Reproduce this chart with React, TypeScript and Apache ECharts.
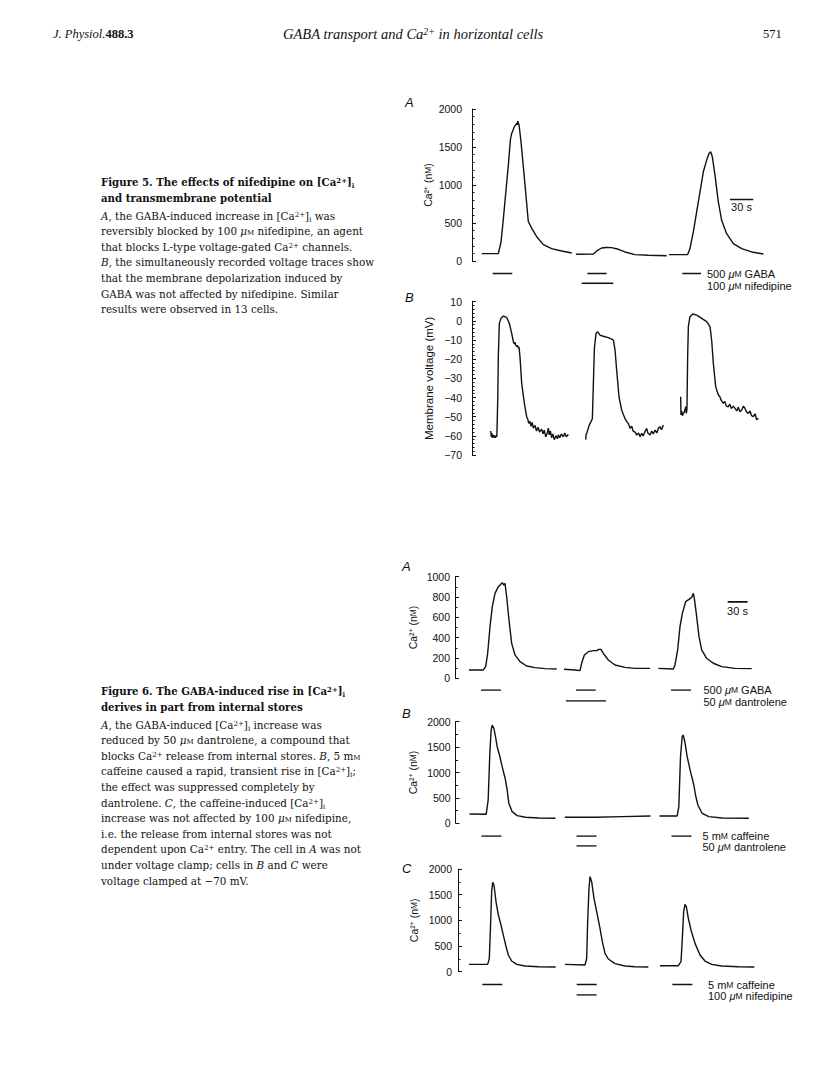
import React, { useEffect, useRef } from "react";
import * as echarts from "echarts";

type Pt = [number, number];

// ---------- Figure 5A : [Ca2+] (nM) vs time (s) ----------
const f5aControl: Pt[] = [[12.5,97],[33.9,97],[37.4,250],[40.4,558],[46.8,1262],[49.5,1600],[51.1,1679],[54.6,1767],[57.6,1811],[58.2,1790],[58.8,1842],[60.6,1789],[63.1,1569],[68.3,998],[72.5,520],[77,430],[83.3,320],[91.9,215],[102.6,163],[115.5,132],[128.4,105]];
const f5aNifedipine: Pt[] = [[134,88],[156.3,92],[160.6,132],[167,171],[173,177],[179.9,176],[188.5,154],[197,119],[209.9,84],[227.1,75],[250.7,70]];
const f5aWash: Pt[] = [[253.7,84],[277.7,84],[280.7,163],[285,382],[289.3,646],[293.6,910],[297.9,1174],[302.2,1328],[305.2,1415],[307.3,1437],[309.5,1371],[312.9,1130],[317.2,778],[321.5,536],[327.9,360],[336.5,229],[347.3,163],[360.1,119],[375.2,92]];
const f5aGaba: Pt[] = [[26.7,51.9],[148.5,173.4],[270.8,294.9]];
const f5aNif: Pt[] = [[141.2,181.9]];
const f5aScale: Pt[] = [[332.2,809],[362.2,809]];

// ---------- Figure 5B : membrane voltage (mV) ----------
const f5bControl: Pt[] = [[24.1,-57.5],[24.8,-60.5],[25.5,-58.5],[26.2,-61],[27,-59.5],[28,-60.8],[29,-59.8],[30,-61],[31,-60],[32,-60.5],[33.2,-40],[33.9,-18.7],[35.2,-1.3],[37.4,1.3],[40.4,2.5],[44.7,1.8],[48.1,-1.3],[51.1,-6.5],[53.3,-10.9],[54.5,-12],[55.5,-11.2],[56.3,-12.6],[57.5,-13.5],[58.5,-12.8],[59.7,-14.3],[60.5,-13.6],[61.8,-18.7],[64,-32.6],[67.4,-43],[70.4,-50],[72,-51.5],[73,-53.5],[74.7,-52.5],[76,-55],[77.5,-53],[79,-56],[81.2,-54.5],[83,-57.5],[85,-55.5],[87,-58],[89.7,-56.5],[91.5,-59],[93,-57],[95,-60.5],[97,-58.5],[98.3,-56],[99.5,-59.5],[101,-57.5],[102.6,-61],[104,-59],[106,-62],[108,-60],[110,-61.5],[111.2,-59.5],[113,-61],[115,-59],[117.6,-60.5],[119.5,-58.5],[121.5,-60.5],[124.1,-59.3]];
const f5bNifedipine: Pt[] = [[146.4,-62],[147,-59],[147.7,-58.7],[149,-57],[150.5,-55],[152,-53.5],[153.5,-52.5],[155,-50.9],[156.3,-32.6],[157.6,-14.3],[159.7,-6.5],[161.9,-5.7],[164.9,-7.4],[168,-7.9],[171.3,-8.3],[174.5,-8.6],[177.7,-9.1],[180,-9.5],[182,-10],[184.2,-15.2],[186.3,-25.7],[189.3,-39.6],[192.7,-46.5],[195,-49],[197,-50.9],[199,-52.5],[201.3,-53.5],[203.5,-56],[205.6,-55],[207.5,-57.5],[210,-58],[212.1,-59.6],[214.5,-58.5],[216.5,-60.5],[218.5,-58.7],[220.5,-60],[222.5,-58],[224.9,-56.1],[226.5,-58.5],[229.2,-59.6],[231.5,-57.5],[233.5,-59],[235.7,-57],[238,-58.5],[240,-56],[242.1,-55.2],[244,-56.8],[246.4,-54.3]];
const f5bWash: Pt[] = [[268.7,-39.6],[269.1,-49.1],[270,-47],[271,-49.5],[272.2,-48.3],[273.5,-47.5],[275.2,-44.8],[276,-48.3],[276.8,-46],[277.7,-18.7],[278.6,-3],[280.7,2.2],[284.2,3.6],[289.3,3],[295.8,1.3],[302.2,-0.4],[306.5,-3],[308.6,-10],[310.8,-22.2],[313.8,-34.3],[317.2,-38.7],[319,-39.5],[321,-41.5],[323.7,-43],[325.5,-42],[327.5,-44.5],[330.1,-44.8],[332,-43.5],[334,-45.8],[336.5,-44.5],[338.7,-45.7],[341,-47],[343,-45],[345,-47.5],[347.3,-46.5],[349.5,-44.5],[351.6,-45.7],[353.5,-47.5],[355.9,-48.3],[358,-47],[360,-49.5],[362.3,-50],[364.5,-48.5],[366.5,-51.5],[368.7,-50.9]];

// ---------- Figure 6A ----------
const f6aControl: Pt[] = [[21,82],[42.5,82],[46,115],[49,246],[52.5,508],[56,705],[60,836],[65,902],[69,928],[71,941],[73,918],[75,934],[77.5,803],[81,574],[85,344],[90,230],[97.5,164],[107.5,121],[120,105],[135,95],[152.5,92]];
const f6aDantrolene: Pt[] = [[163.5,89],[180,82],[187.5,75],[190,148],[194,230],[200,262],[207.5,272],[212.5,272],[216,285],[219,285],[222.5,246],[230,180],[240,131],[255,108],[270,98],[292.5,98]];
const f6aWash: Pt[] = [[305,98],[327.5,92],[330,131],[334,279],[337.5,508],[341,639],[346,754],[351,777],[355,797],[357.5,836],[359,787],[362.5,607],[366,410],[370,279],[377.5,197],[387.5,148],[400,115],[420,98],[445,95]];
const f6aGaba: Pt[] = [[39,69],[181.5,211],[324,354]];
const f6aDant: Pt[] = [[166.5,226.5]];
const f6aScale: Pt[] = [[409,753],[439,753]];

// ---------- Figure 6B ----------
const f6bControl: Pt[] = [[21,184],[46,177],[49,459],[51.5,1377],[53.5,1836],[55,1934],[57.5,1869],[60,1705],[62.5,1508],[66,1344],[70,1115],[75,852],[77.5,656],[80,393],[85,229],[92.5,151],[105,118],[125,105],[150,98]];
const f6bDantrolene: Pt[] = [[164,118],[210,118],[250,131],[292.5,144]];
const f6bWash: Pt[] = [[306,144],[332.5,144],[335,328],[337.5,1311],[340,1705],[341.5,1738],[344,1606],[347.5,1311],[352.5,1016],[357.5,754],[360,557],[363.5,361],[370,197],[380,131],[400,105],[440,98]];
const f6bCaff: Pt[] = [[39,69],[181.5,211.5],[324,354]];
const f6bDant: Pt[] = [[181.5,211.5]];

// ---------- Figure 6C ----------
const f6cControl: Pt[] = [[16.5,143],[44.5,143],[47,260],[49,974],[50.5,1558],[52,1740],[54,1688],[57,1364],[60.5,1104],[64.5,909],[68,714],[71.5,520],[75.5,325],[80.5,208],[88,143],[100.5,110],[120.5,97],[146.5,91]];
const f6cNifedipine: Pt[] = [[160.5,143],[190.5,130],[193,260],[194.5,974],[196.5,1624],[198,1851],[200.5,1753],[204,1429],[208,1169],[213,844],[216.5,584],[220.5,357],[225.5,247],[235.5,156],[250.5,110],[265.5,97],[285.5,91]];
const f6cWash: Pt[] = [[303,117],[330.5,117],[334.5,195],[336.5,649],[338.5,1169],[340.5,1312],[342.5,1266],[345.5,1039],[349.5,812],[355.5,552],[363,325],[370.5,208],[380.5,143],[395.5,110],[420.5,97],[444.5,91]];
const f6cCaff: Pt[] = [[36.5,66.5],[178,208],[321.5,351.5]];
const f6cNif: Pt[] = [[178,208]];

const SANS = '"Liberation Sans", Arial, Helvetica, sans-serif';
const SERIF = '"Liberation Serif", "Times New Roman", serif';
const CAPSERIF = '"DejaVu Serif", "Liberation Serif", serif';
const INK = "#111";

function buildOption() {
  const grids: any[] = [];
  const xAxes: any[] = [];
  const yAxes: any[] = [];
  const series: any[] = [];

  const rich = {
    sc: { fontSize: 8.5, fontFamily: SANS, color: INK },
    mu: { fontSize: 11, fontStyle: "italic", fontFamily: SANS, color: INK },
  };

  function trace(p: {
    left: number; top: number; width: number; height: number; xMax: number;
    yMin: number; yMax: number; interval: number; minor: number; offset: number;
    name: string; nameGap: number; nameSize: number; segments: Pt[][]; scale?: Pt[];
  }) {
    const gi = grids.length;
    grids.push({ left: p.left, top: p.top, width: p.width, height: p.height });
    xAxes.push({ gridIndex: gi, type: "value", min: 0, max: p.xMax, show: false });
    yAxes.push({
      gridIndex: gi, type: "value", min: p.yMin, max: p.yMax, interval: p.interval, offset: p.offset,
      name: p.name, nameLocation: "middle", nameGap: p.nameGap,
      nameTextStyle: { color: INK, fontSize: p.nameSize, fontFamily: SANS, rich: { sc: { fontSize: p.nameSize * 0.8, fontFamily: SANS, color: INK } } },
      axisLine: { show: true, lineStyle: { color: INK, width: 1 } },
      axisTick: { show: true, inside: true, length: 4, lineStyle: { color: INK, width: 1 } },
      minorTick: { show: true, splitNumber: p.minor, length: 2.5, lineStyle: { color: INK, width: 1 } },
      axisLabel: { color: INK, fontSize: 10.5, fontFamily: SANS, margin: 5, formatter: (v: number) => String(v).replace("-", "\u2212") },
      splitLine: { show: false },
    });
    p.segments.forEach((seg) =>
      series.push({ type: "line", xAxisIndex: gi, yAxisIndex: gi, data: seg, symbol: "none", silent: true, lineStyle: { color: INK, width: 1.4 } })
    );
    if (p.scale) {
      series.push({ type: "line", xAxisIndex: gi, yAxisIndex: gi, data: p.scale, symbol: "none", silent: true, lineStyle: { color: INK, width: 1.7 } });
    }
  }

  function stim(p: { left: number; top: number; width: number; height: number; xMax: number; rows: Pt[][] }) {
    const gi = grids.length;
    grids.push({ left: p.left, top: p.top, width: p.width, height: p.height });
    xAxes.push({ gridIndex: gi, type: "value", min: 0, max: p.xMax, show: false });
    yAxes.push({ gridIndex: gi, type: "value", min: 0, max: 1, inverse: true, show: false });
    p.rows.forEach((bars, r) =>
      bars.forEach(([a, b]) =>
        series.push({ type: "line", xAxisIndex: gi, yAxisIndex: gi, data: [[a, r], [b, r]], symbol: "none", silent: true, lineStyle: { color: INK, width: 1.7 } })
      )
    );
  }

  const CA = "Ca\u00b2\u207a (n{sc|M})";

  // Figure 5
  trace({ left: 472, top: 109, width: 318, height: 152, xMax: 409.5, yMin: 0, yMax: 2000, interval: 500, minor: 5, offset: 5, name: CA, nameGap: 34, nameSize: 10.5, segments: [f5aControl, f5aNifedipine, f5aWash], scale: f5aScale });
  stim({ left: 472, top: 273.3, width: 318, height: 10, xMax: 409.5, rows: [f5aGaba, f5aNif] });
  trace({ left: 472, top: 301.7, width: 318, height: 153.3, xMax: 409.5, yMin: -70, yMax: 10, interval: 10, minor: 5, offset: 5, name: "Membrane voltage (mV)", nameGap: 32, nameSize: 11.5, segments: [f5bControl, f5bNifedipine, f5bWash] });

  // Figure 6
  trace({ left: 455, top: 576.7, width: 330, height: 101.6, xMax: 495, yMin: 0, yMax: 1000, interval: 200, minor: 2, offset: 0, name: CA, nameGap: 37, nameSize: 10.5, segments: [f6aControl, f6aDantrolene, f6aWash], scale: f6aScale });
  stim({ left: 455, top: 690, width: 330, height: 11, xMax: 495, rows: [f6aGaba, f6aDant] });
  trace({ left: 455.5, top: 721.7, width: 330, height: 101.6, xMax: 495, yMin: 0, yMax: 2000, interval: 500, minor: 2, offset: 0, name: CA, nameGap: 37, nameSize: 10.5, segments: [f6bControl, f6bDantrolene, f6bWash] });
  stim({ left: 455.5, top: 836, width: 330, height: 10, xMax: 495, rows: [f6bCaff, f6bDant] });
  trace({ left: 458, top: 869, width: 330, height: 102.7, xMax: 495, yMin: 0, yMax: 2000, interval: 500, minor: 2, offset: 1, name: CA, nameGap: 38, nameSize: 10.5, segments: [f6cControl, f6cNifedipine, f6cWash] });
  stim({ left: 458, top: 984.3, width: 330, height: 10.7, xMax: 495, rows: [f6cCaff, f6cNif] });

  const txt = (x: number, y: number, text: string, extra: any = {}) => ({
    type: "text", x, y, silent: true,
    style: { text, fill: INK, fontSize: 11, fontFamily: SANS, align: "left", verticalAlign: "middle", rich, ...extra },
  });
  const letter = (x: number, y: number, t: string) => txt(x, y, t, { fontSize: 13, fontStyle: "italic" });

  const graphic = [
    letter(405, 102, "A"), letter(405, 297, "B"),
    letter(402, 566, "A"), letter(402, 713, "B"), letter(402, 868, "C"),
    txt(741.5, 206.5, "30 s", { align: "center" }),
    txt(737.5, 611, "30 s", { align: "center" }),
    txt(707, 274, "500 {mu|\u03bc}{sc|M} GABA"),
    txt(707, 286, "100 {mu|\u03bc}{sc|M} nifedipine"),
    txt(703.5, 690, "500 {mu|\u03bc}{sc|M} GABA"),
    txt(703.5, 701.5, "50 {mu|\u03bc}{sc|M} dantrolene"),
    txt(702.5, 836, "5 m{sc|M} caffeine"),
    txt(702.5, 846.5, "50 {mu|\u03bc}{sc|M} dantrolene"),
    txt(708, 984.5, "5 m{sc|M} caffeine"),
    txt(708, 995.5, "100 {mu|\u03bc}{sc|M} nifedipine"),
  ];

  return { animation: false, backgroundColor: "#fff", grid: grids, xAxis: xAxes, yAxis: yAxes, series, graphic };
}

const supS: React.CSSProperties = { fontSize: "0.68em", verticalAlign: "0.45em", lineHeight: 0 };
const subS: React.CSSProperties = { fontSize: "0.68em", verticalAlign: "-0.25em", lineHeight: 0 };
const scS: React.CSSProperties = { fontVariant: "small-caps" };
const Ca = () => (<>Ca<sup style={supS}>2+</sup></>);
const Cai = () => (<>[Ca<sup style={supS}>2+</sup>]<sub style={subS}>i</sub></>);
const MicroM = () => (<><i>μ</i><span style={scS}>m</span></>);

export default function App() {
  const ref = useRef<HTMLDivElement>(null);
  useEffect(() => {
    const chart = echarts.init(ref.current!, null, { renderer: "svg" });
    chart.setOption(buildOption() as any);
    return () => chart.dispose();
  }, []);

  const cap: React.CSSProperties = {
    position: "absolute", left: 101, fontFamily: CAPSERIF, fontSize: 10.4, lineHeight: "15.6px", color: INK, whiteSpace: "nowrap",
  };
  const title: React.CSSProperties = { fontWeight: "bold", fontSize: 10.2 };

  return (
    <div style={{ position: "absolute", left: 0, top: 0, width: 816, height: 1088, background: "#fff", overflow: "hidden" }}>
      <div ref={ref} style={{ position: "absolute", left: 0, top: 0, width: 816, height: 1088 }} />
      <div style={{ position: "absolute", left: 53, top: 27, fontFamily: SERIF, fontSize: 12.5, color: INK, whiteSpace: "nowrap" }}>
        <i>J. Physiol.</i><b>488.3</b>
      </div>
      <div style={{ position: "absolute", left: 283, top: 26, fontFamily: SERIF, fontSize: 14.5, fontStyle: "italic", color: INK, whiteSpace: "nowrap" }}>
        GABA transport and <Ca /> in horizontal cells
      </div>
      <div style={{ position: "absolute", left: 763, top: 27, fontFamily: SERIF, fontSize: 12.5, color: INK }}>571</div>

      <div style={{ ...cap, top: 175 }}>
        <div style={title}>Figure 5. The effects of nifedipine on <Cai /><br />and transmembrane potential</div>
        <div style={{ marginTop: 2.5 }}>
          <i>A</i>, the GABA-induced increase in <Cai /> was<br />
          reversibly blocked by 100 <MicroM /> nifedipine, an agent<br />
          that blocks L-type voltage-gated <Ca /> channels.<br />
          <i>B</i>, the simultaneously recorded voltage traces show<br />
          that the membrane depolarization induced by<br />
          GABA was not affected by nifedipine. Similar<br />
          results were observed in 13 cells.
        </div>
      </div>

      <div style={{ ...cap, top: 684 }}>
        <div style={title}>Figure 6. The GABA-induced rise in <Cai /><br />derives in part from internal stores</div>
        <div style={{ marginTop: 2.5 }}>
          <i>A</i>, the GABA-induced <Cai /> increase was<br />
          reduced by 50 <MicroM /> dantrolene, a compound that<br />
          blocks <Ca /> release from internal stores. <i>B</i>, 5 m<span style={scS}>m</span><br />
          caffeine caused a rapid, transient rise in <Cai />;<br />
          the effect was suppressed completely by<br />
          dantrolene. <i>C</i>, the caffeine-induced <Cai /><br />
          increase was not affected by 100 <MicroM /> nifedipine,<br />
          i.e. the release from internal stores was not<br />
          dependent upon <Ca /> entry. The cell in <i>A</i> was not<br />
          under voltage clamp; cells in <i>B</i> and <i>C</i> were<br />
          voltage clamped at −70 mV.
        </div>
      </div>
    </div>
  );
}
